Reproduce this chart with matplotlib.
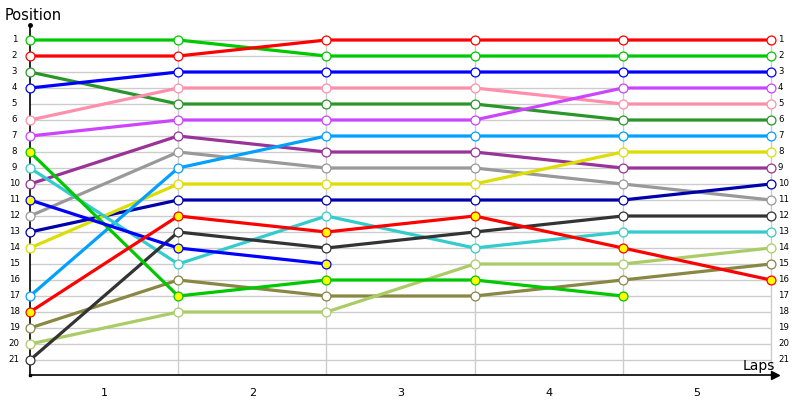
import numpy as np
import matplotlib
matplotlib.use("Agg")
import matplotlib.pyplot as plt

nan = np.nan
lap_points = [0, 1, 2, 3, 4, 5]
lap_labels = ["1", "2", "3", "4", "5"]
position_labels = [str(i) for i in range(1, 22)]

# driver series: positions at each lap boundary
green1  = [1, 1, 2, 2, 2, 2]
red1    = [2, 2, 1, 1, 1, 1]
dkgreen = [3, 5, 5, 5, 6, 6]
blue1   = [4, 3, 3, 3, 3, 3]
pink    = [6, 4, 4, 4, 5, 5]
violet  = [7, 6, 6, 6, 4, 4]
green2  = [8, 17, 16, 16, 17, nan]
cyan    = [9, 15, 12, 14, 13, 13]
purple  = [10, 7, 8, 8, 9, 9]
blue2   = [11, 14, 15, nan, nan, nan]
gray    = [12, 8, 9, 9, 10, 11]
dkblue  = [13, 11, 11, 11, 11, 10]
yellow  = [14, 10, 10, 10, 8, 8]
ltblue  = [17, 9, 7, 7, 7, 7]
red2    = [18, 12, 13, 12, 14, 16]
olive   = [19, 16, 17, 17, 16, 15]
ltgreen = [20, 18, 18, 15, 15, 14]
dkgray  = [21, 13, 14, 13, 12, 12]

series = [
    (green1, "#00c800", "white"),
    (red1, "#ff0000", "white"),
    (dkgreen, "#2a962a", "white"),
    (blue1, "#0000ff", "white"),
    (pink, "#ff8fab", "white"),
    (violet, "#cc44ff", "white"),
    (purple, "#993399", "white"),
    (gray, "#999999", "white"),
    (dkblue, "#0000aa", "white"),
    (yellow, "#dddd00", "white"),
    (ltblue, "#00a0ff", "white"),
    (cyan, "#33cccc", "white"),
    (olive, "#888844", "white"),
    (ltgreen, "#aacc66", "white"),
    (dkgray, "#333333", "white"),
    (green2, "#00c800", "#ffff00"),
    (blue2, "#0000ff", "#ffff00"),
    (red2, "#ff0000", "#ffff00"),
]

fig = plt.figure(figsize=(8, 4), dpi=100)
ax = fig.add_axes([30/800, 25/400, 745/800, 350/400])
ax.set_xlim(0, 5 + 4/148.2)
ax.set_ylim(1 + (375-40)/16, 1 + (25-40)/16)

npos = len(position_labels)
ypos = np.arange(1, npos + 1)
ax.hlines(ypos, lap_points[0], lap_points[-1], color="#cccccc", lw=1, zorder=1)
ax.vlines(lap_points[1:], 0.7, ax.get_ylim()[0], color="#cccccc", lw=1, zorder=1)

for vals, col, face in series:
    ax.plot(lap_points, vals, color=col, lw=2.3, marker="o", markersize=6.4,
            markerfacecolor=face, markeredgecolor=col, markeredgewidth=0.9,
            zorder=3, clip_on=False, solid_capstyle="butt")

for s in ["top", "right"]:
    ax.spines[s].set_visible(False)
for s in ["left", "bottom"]:
    ax.spines[s].set_color("black")
    ax.spines[s].set_linewidth(1.2)
    ax.spines[s].set_zorder(2)

ax.set_yticks([])
ax.set_xticks([x + 0.5 for x in lap_points[:-1]])
ax.set_xticklabels(lap_labels, fontsize=8)
ax.tick_params(axis="x", length=0, pad=9)

tr = ax.get_yaxis_transform()
for y, lab in zip(ypos, position_labels):
    ax.text(-0.021, y, lab, transform=tr, ha="center", va="center", fontsize=6.2)
    ax.text(1.004, y, lab, transform=tr, ha="left", va="center", fontsize=6.2)

# axis decorations
ax.plot([0], [ax.get_ylim()[1]], marker="o", color="black", markersize=2.5, clip_on=False, zorder=4)
ax.plot([0], [ax.get_ylim()[0]], marker="s", color="black", markersize=2, clip_on=False, zorder=4)
ax.plot([ax.get_xlim()[1]], [ax.get_ylim()[0]], marker=">", color="black", markersize=6,
        clip_on=False, zorder=4)

fig.text(5/800, 1 - 15/400, "Position", ha="left", va="center", fontsize=10.5)
fig.text(775/800, 1 - 366/400, "Laps", ha="right", va="center", fontsize=10)

fig.savefig("out.png", dpi=100)
